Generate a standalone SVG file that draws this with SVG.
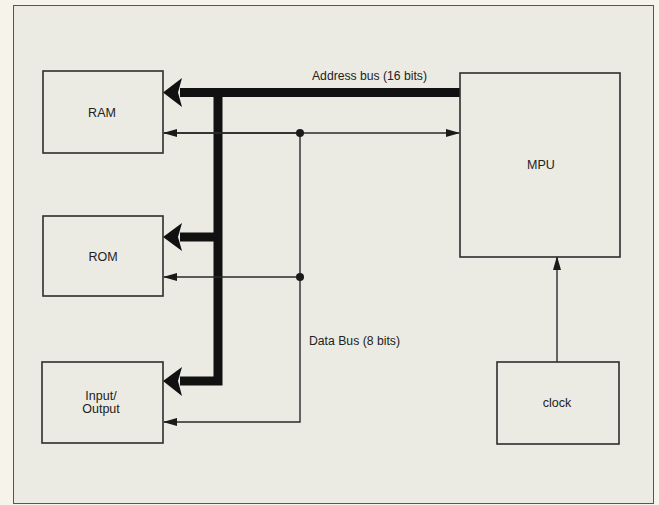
<svg xmlns="http://www.w3.org/2000/svg" width="659" height="505" viewBox="0 0 659 505">
<style>
.box{fill:none;stroke:#2e2e2e;stroke-width:1.6}
.lbl{font-family:"Liberation Sans",Arial,sans-serif;font-size:12.5px;fill:#222}
.thin{fill:none;stroke:#2a2a2a;stroke-width:1.4}
.thick{fill:none;stroke:#111;stroke-width:9}
.head{fill:#111}
</style>
<defs>
<marker id="sm" viewBox="0 0 14 10" refX="13" refY="5" markerWidth="14" markerHeight="10" markerUnits="userSpaceOnUse" orient="auto">
<path d="M0,1 L14,5 L0,9 Z" fill="#1a1a1a"/>
</marker>
</defs>
<rect x="0" y="0" width="659" height="505" fill="#f6f3ea"/>
<rect x="13.5" y="5.5" width="640" height="498" fill="#ebebe4" stroke="#555" stroke-width="1"/>

<g id="connectors">
<!-- address bus -->
<path class="thick" d="M460,92.5 H180"/>
<path class="thick" d="M218,92.5 V381 H180"/>
<path class="thick" d="M218,237 H180"/>
<path class="head" d="M163,92.5 L182,78 L178,92.5 L182,107 Z"/>
<path class="head" d="M163,237 L182,223 L178,237 L182,251 Z"/>
<path class="head" d="M163,381 L182,367 L178,381 L182,396 Z"/>
<!-- data bus -->
<path class="thin" d="M164,133 H459" marker-end="url(#sm)"/>
<path class="thin" d="M300,133 V422 H164" marker-end="url(#sm)"/>
<path class="thin" d="M300,277 H164" marker-end="url(#sm)"/>
<path class="thin" d="M300,133 H164" marker-end="url(#sm)"/>
<circle cx="300" cy="133" r="4" fill="#1a1a1a"/>
<circle cx="300" cy="277" r="4" fill="#1a1a1a"/>
<!-- clock -->
<path class="thin" d="M557,362 V257" marker-end="url(#sm)"/>
<text class="lbl" x="312" y="80" textLength="115" lengthAdjust="spacingAndGlyphs">Address bus (16 bits)</text>
<text class="lbl" x="309" y="345" textLength="91" lengthAdjust="spacingAndGlyphs">Data Bus (8 bits)</text>
</g>

<g id="ram">
<rect class="box" x="43" y="71" width="120" height="82"/>
<text class="lbl" x="102" y="117" text-anchor="middle">RAM</text>
</g>
<g id="rom">
<rect class="box" x="43" y="216" width="120" height="80"/>
<text class="lbl" x="103" y="261" text-anchor="middle">ROM</text>
</g>
<g id="io">
<rect class="box" x="42" y="362" width="121" height="81"/>
<text class="lbl" x="101" y="400" text-anchor="middle">Input/</text>
<text class="lbl" x="101" y="413" text-anchor="middle">Output</text>
</g>
<g id="mpu">
<rect class="box" x="460" y="73" width="160" height="184"/>
<text class="lbl" x="541" y="169" text-anchor="middle">MPU</text>
</g>
<g id="clock">
<rect class="box" x="497" y="362" width="122" height="82"/>
<text class="lbl" x="557" y="407" text-anchor="middle">clock</text>
</g>
</svg>
